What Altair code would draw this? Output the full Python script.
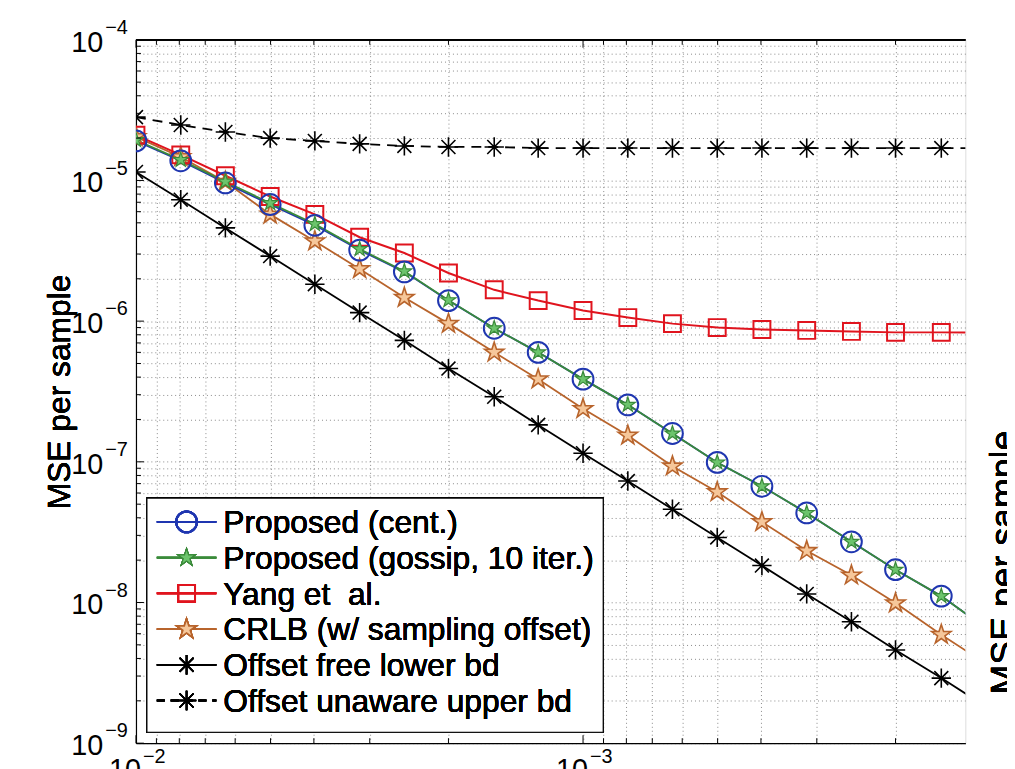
import altair as alt
import pandas as pd

# ---------------- data ----------------
x_vals = [1.0e-2, 7.94e-3, 6.31e-3, 5.01e-3, 3.98e-3, 3.16e-3, 2.51e-3, 2.0e-3,
          1.58e-3, 1.26e-3, 1.0e-3, 7.94e-4, 6.31e-4, 5.01e-4, 3.98e-4, 3.16e-4,
          2.51e-4, 2.0e-4, 1.58e-4, 1.26e-4]

prop_cent = [1.91e-5, 1.38e-5, 9.6e-6, 6.75e-6, 4.8e-6, 3.2e-6, 2.24e-6, 1.4e-6,
             8.9e-7, 6.0e-7, 3.87e-7, 2.54e-7, 1.59e-7, 9.9e-8, 6.7e-8, 4.33e-8,
             2.7e-8, 1.71e-8, 1.11e-8, 6.6e-9]
prop_gossip = [1.94e-5, 1.40e-5, 9.8e-6, 6.9e-6, 4.9e-6, 3.25e-6, 2.26e-6, 1.41e-6,
               8.9e-7, 6.0e-7, 3.87e-7, 2.54e-7, 1.59e-7, 9.9e-8, 6.7e-8, 4.33e-8,
               2.7e-8, 1.71e-8, 1.11e-8, 6.6e-9]
yang = [2.10e-5, 1.52e-5, 1.08e-5, 7.69e-6, 5.74e-6, 3.95e-6, 3.05e-6, 2.2e-6,
        1.67e-6, 1.40e-6, 1.19e-6, 1.06e-6, 9.6e-7, 9.0e-7, 8.73e-7, 8.59e-7,
        8.45e-7, 8.32e-7, 8.32e-7, 8.3e-7]
crlb = [2.04e-5, 1.47e-5, 9.8e-6, 5.74e-6, 3.7e-6, 2.35e-6, 1.47e-6, 9.6e-7,
        6.0e-7, 3.87e-7, 2.38e-7, 1.54e-7, 9.3e-8, 6.1e-8, 3.74e-8, 2.33e-8,
        1.56e-8, 9.9e-9, 5.9e-9, 3.7e-9]
free_lower = [1.15e-5, 7.3e-6, 4.6e-6, 2.9e-6, 1.83e-6, 1.15e-6, 7.3e-7, 4.6e-7,
              2.9e-7, 1.83e-7, 1.15e-7, 7.3e-8, 4.6e-8, 2.9e-8, 1.83e-8, 1.15e-8,
              7.3e-9, 4.6e-9, 2.9e-9, 1.83e-9]
unaware_upper = [2.82e-5, 2.48e-5, 2.21e-5, 2.0e-5, 1.91e-5, 1.82e-5, 1.76e-5, 1.73e-5,
                 1.73e-5, 1.70e-5, 1.70e-5, 1.70e-5, 1.70e-5, 1.70e-5, 1.70e-5, 1.70e-5,
                 1.70e-5, 1.70e-5, 1.70e-5, 1.70e-5]

series_names = ["Proposed (cent.)", "Proposed (gossip, 10 iter.)", "Yang et\u00a0 al.",
                "CRLB (w/ sampling offset)", "Offset free lower bd", "Offset unaware upper bd"]

y_major = [1e-4, 1e-5, 1e-6, 1e-7, 1e-8, 1e-9]
y_exp = ["\u22124", "\u22125", "\u22126", "\u22127", "\u22128", "\u22129"]
x_major = [1e-2, 1e-3]
x_exp = ["\u22122", "\u22123"]
x_minor = [9e-3, 8e-3, 7e-3, 6e-3, 5e-3, 4e-3, 3e-3, 2e-3,
           9e-4, 8e-4, 7e-4, 6e-4, 5e-4, 4e-4, 3e-4, 2e-4]
y_minor = [m * d for d in [1e-9, 1e-8, 1e-7, 1e-6, 1e-5] for m in [2, 3, 4, 5, 6, 7, 8, 9]]

# ---------------- layout / style ----------------
W, H = 836, 709
FONT = "Liberation Sans"
X_DOMAIN = [1.396e-4, 1e-2]

xs = alt.Scale(type="log", domain=X_DOMAIN, reverse=True, nice=False)
ys = alt.Scale(type="log", domain=[1e-9, 1e-4], nice=False)

xaxis = alt.Axis(values=x_major + x_minor, grid=True, labels=False, ticks=False,
                 domain=True, domainColor="#000", domainWidth=1.2, title=None,
                 gridDash=[1, 3], gridColor="#8a8a8a", gridWidth=1)
yaxis = alt.Axis(values=y_major + y_minor, grid=True, labels=False, ticks=False,
                 domain=True, domainColor="#000", domainWidth=1.2, title=None,
                 gridDash=[1, 3], gridColor="#8a8a8a", gridWidth=1)


def X(field="x"):
    return alt.X(f"{field}:Q", scale=xs, axis=xaxis)


def Y(field="y"):
    return alt.Y(f"{field}:Q", scale=ys, axis=yaxis)


STAR = ("M0,-1L0.2245,-0.309L0.951,-0.309L0.363,0.118L0.588,0.809L0,0.382"
        "L-0.588,0.809L-0.363,0.118L-0.951,-0.309L-0.2245,-0.309Z")
AST = "M0,-1L0,1M-1,0L1,0M-0.72,-0.72L0.72,0.72M-0.72,0.72L0.72,-0.72"

BLUE = "#1f36b0"
GREEN = "#3a8a3a"
RED = "#e0141e"
ORANGE = "#b8642c"
ORANGE_FILL = "#f6c79a"
GREEN_FILL = "#6cc46c"

series_vals = [prop_cent, prop_gossip, yang, crlb, free_lower, unaware_upper]
frames = {n: pd.DataFrame({"x": x_vals, "y": v}) for n, v in zip(series_names, series_vals)}

line_style = {
    series_names[0]: dict(color=BLUE, strokeWidth=1.8),
    series_names[1]: dict(color=GREEN, strokeWidth=1.8),
    series_names[2]: dict(color=RED, strokeWidth=2.0),
    series_names[3]: dict(color=ORANGE, strokeWidth=1.8),
    series_names[4]: dict(color="#000", strokeWidth=1.8),
    series_names[5]: dict(color="#000", strokeWidth=1.8, strokeDash=[10, 7]),
}
marker_style = {
    series_names[0]: dict(shape="circle", size=440, filled=False, stroke=BLUE, strokeWidth=2),
    series_names[1]: dict(shape=STAR, size=250, filled=True, fill=GREEN_FILL, stroke=GREEN, strokeWidth=1.2),
    series_names[2]: dict(shape="square", size=290, filled=False, stroke=RED, strokeWidth=2),
    series_names[3]: dict(shape=STAR, size=420, filled=True, fill=ORANGE_FILL, stroke=ORANGE, strokeWidth=1.6),
    series_names[4]: dict(shape=AST, size=380, filled=False, stroke="#000", strokeWidth=1.6),
    series_names[5]: dict(shape=AST, size=380, filled=False, stroke="#000", strokeWidth=1.6),
}

layers = []

draw_order = [series_names[5], series_names[4], series_names[3], series_names[2],
              series_names[0], series_names[1]]
# lines
for n in draw_order:
    layers.append(alt.Chart(frames[n]).mark_line(clip=True, **line_style[n]).encode(x=X(), y=Y()))
# markers
for n in draw_order:
    layers.append(alt.Chart(frames[n]).mark_point(clip=True, opacity=1, **marker_style[n]).encode(x=X(), y=Y()))

# inward ticks
ym_df = pd.DataFrame({"y": y_major, "e": y_exp})
yn_df = pd.DataFrame({"y": y_minor})
xm_df = pd.DataFrame({"x": x_major, "e": x_exp})
xn_df = pd.DataFrame({"x": x_minor})

layers.append(alt.Chart(ym_df).mark_rule(color="#000", strokeWidth=1).encode(
    y=Y(), x=alt.value(0), x2=alt.value(8)))
layers.append(alt.Chart(yn_df).mark_rule(color="#000", strokeWidth=1).encode(
    y=Y(), x=alt.value(0), x2=alt.value(5)))
for y0, y1 in [(0, 8), (H, H - 8)]:
    layers.append(alt.Chart(xm_df).mark_rule(color="#000", strokeWidth=1).encode(
        x=X(), y=alt.value(y0), y2=alt.value(y1)))
for y0, y1 in [(0, 5), (H, H - 5)]:
    layers.append(alt.Chart(xn_df).mark_rule(color="#000", strokeWidth=1).encode(
        x=X(), y=alt.value(y0), y2=alt.value(y1)))

# top border
layers.append(alt.Chart(ym_df).mark_rule(color="#000", strokeWidth=1.2).encode(
    x=alt.value(0), x2=alt.value(W), y=alt.value(0)))

# tick labels (10 with superscript exponent)
layers.append(alt.Chart(ym_df).mark_text(text="10", font=FONT, fontSize=29, align="right",
                                         baseline="alphabetic", dy=12).encode(
    y=Y(), x=alt.value(-33)))
layers.append(alt.Chart(ym_df).mark_text(font=FONT, fontSize=20, align="left",
                                         baseline="alphabetic", dy=-6).encode(
    y=Y(), x=alt.value(-31), text="e:N"))
layers.append(alt.Chart(xm_df).mark_text(text="10", font=FONT, fontSize=29, align="right",
                                         baseline="alphabetic", dx=5).encode(
    x=X(), y=alt.value(H + 36)))
layers.append(alt.Chart(xm_df).mark_text(font=FONT, fontSize=20, align="left",
                                         baseline="alphabetic", dx=7).encode(
    x=X(), y=alt.value(H + 20), text="e:N"))

# axis titles
layers.append(alt.Chart(ym_df).mark_text(text="MSE per sample", font=FONT, fontSize=32, angle=270,
                                         align="center", baseline="alphabetic").encode(
    x=alt.value(-67), y=alt.value(355)))
layers.append(alt.Chart(ym_df).mark_text(text="MSE per sample", font=FONT, fontSize=36, angle=270,
                                         align="center", baseline="alphabetic").encode(
    x=alt.value(W + 50), y=alt.value(527)))

# legend
LX0, LX1, LY0, LY1 = 11, 471, 462, 698
layers.append(alt.Chart(ym_df).mark_rect(fill="#fff", stroke="#000", strokeWidth=1.2).encode(
    x=alt.value(LX0), x2=alt.value(LX1), y=alt.value(LY0), y2=alt.value(LY1)))
legend_df = pd.DataFrame({"name": series_names})
for i, n in enumerate(series_names):
    cy = 486 + 36 * i
    ls = dict(line_style[n])
    if i == 5:
        ls["strokeDash"] = [8, 6]
    layers.append(alt.Chart(legend_df).mark_rule(**ls).encode(
        x=alt.value(21), x2=alt.value(81), y=alt.value(cy)))
    ms = dict(marker_style[n])
    if i == 1:
        ms["size"] = 330
    layers.append(alt.Chart(legend_df).mark_point(opacity=1, **ms).encode(
        x=alt.value(51), y=alt.value(cy)))
    layers.append(alt.Chart(legend_df).mark_text(text=n, font=FONT, fontSize=32, align="left",
                                                 baseline="alphabetic").encode(
        x=alt.value(88), y=alt.value(cy + 11.5)))

chart = alt.layer(*layers).properties(
    width=W, height=H,
    padding={"left": 129, "top": 29, "right": 42, "bottom": 23},
    autosize=alt.AutoSizeParams(type="none"),
).configure_view(stroke=None).configure(background="#ffffff")

chart.save("out.html", embed_options={"renderer": "svg", "actions": False})
